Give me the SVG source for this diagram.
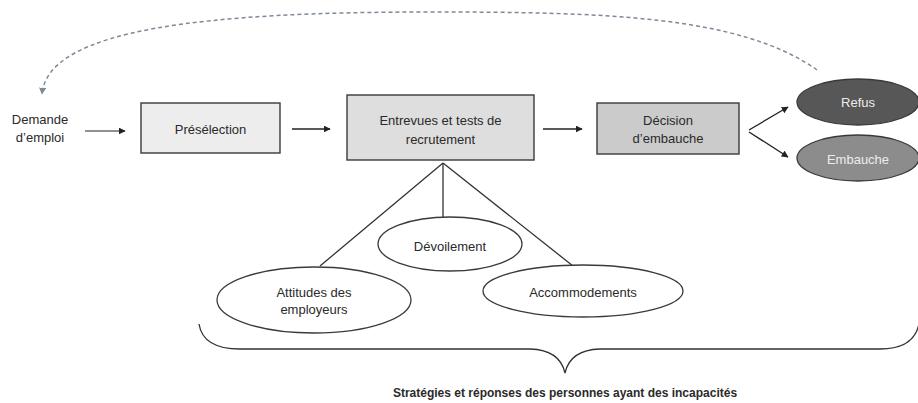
<svg xmlns="http://www.w3.org/2000/svg" width="918" height="403" viewBox="0 0 918 403">
<style>
text{font-family:"Liberation Sans",Arial,sans-serif;font-size:13px;fill:#2a2a2a;text-anchor:middle;dominant-baseline:central}
.box{stroke:#3a3a3a;stroke-width:1.4}
.ell{stroke:#3a3a3a;stroke-width:1.3}
.arr{stroke:#222;stroke-width:1.3;fill:none;marker-end:url(#ah)}
.ln{stroke:#333;stroke-width:1.3;fill:none}
.wt{fill:#ececec}
</style>
<defs>
<marker id="ah" viewBox="0 0 10 10" refX="9" refY="5" markerWidth="7" markerHeight="7" markerUnits="userSpaceOnUse" orient="auto"><path d="M0,0 L10,5 L0,10 z" fill="#222"/></marker>
<marker id="ahd" viewBox="0 0 10 10" refX="9" refY="5" markerWidth="7" markerHeight="7" markerUnits="userSpaceOnUse" orient="auto"><path d="M0,0 L10,5 L0,10 z" fill="#7d8a98"/></marker>
</defs>
<rect width="918" height="403" fill="#fff"/>
<g id="connectors">
<path d="M817 70 C740 15 600 12 430 12 C210 12 48 28 42 94" fill="none" stroke="#7d8a98" stroke-width="1.5" stroke-dasharray="4 3" marker-end="url(#ahd)"/>
<line class="arr" x1="85" y1="131" x2="125" y2="131" style="stroke-width:1"/>
<line class="arr" x1="292" y1="129" x2="330" y2="129"/>
<line class="arr" x1="543" y1="129" x2="582" y2="129"/>
<line class="arr" x1="749" y1="130" x2="788" y2="107"/>
<line class="arr" x1="749" y1="132" x2="788" y2="157"/>
<line class="ln" x1="443" y1="163" x2="320" y2="266"/>
<line class="ln" x1="443" y1="163" x2="443" y2="217"/>
<line class="ln" x1="443" y1="163" x2="573" y2="266"/>
<path class="ln" d="M199 324 Q203 349 240 349 L530 349 Q560 350 565 373 Q570 350 600 349 L880 349 Q914 349 919 324"/>
</g>
<g id="demande"><text x="40" y="119">Demande</text><text x="40" y="137">d’emploi</text></g>
<g id="preselection"><rect class="box" x="141" y="103" width="139" height="50" fill="#ededed"/><text x="210.5" y="129">Présélection</text></g>
<g id="entrevues"><rect class="box" x="347" y="95" width="187" height="65" fill="#dedede"/><text x="440.5" y="120">Entrevues et tests de</text><text x="440.5" y="139">recrutement</text></g>
<g id="decision"><rect class="box" x="597" y="103" width="142" height="51" fill="#cbcbcb"/><text x="668" y="120">Décision</text><text x="668" y="138">d’embauche</text></g>
<g id="refus"><ellipse class="ell" cx="858" cy="102" rx="61" ry="23" fill="#575757"/><text class="wt" x="858" y="102">Refus</text></g>
<g id="embauche"><ellipse class="ell" cx="858" cy="158" rx="61" ry="23" fill="#8c8c8c"/><text class="wt" x="858" y="159">Embauche</text></g>
<g id="devoilement"><ellipse class="ell" cx="450" cy="244" rx="72" ry="27" fill="#fff"/><text x="450" y="246">Dévoilement</text></g>
<g id="attitudes"><ellipse class="ell" cx="314" cy="300" rx="97" ry="33" fill="#fff"/><text x="314" y="292">Attitudes des</text><text x="314" y="309">employeurs</text></g>
<g id="accommodements"><ellipse class="ell" cx="583" cy="291" rx="100" ry="26" fill="#fff"/><text x="583" y="292">Accommodements</text></g>
<g id="strategies"><text x="565" y="393" style="font-weight:bold;font-size:12px">Stratégies et réponses des personnes ayant des incapacités</text></g>
</svg>
